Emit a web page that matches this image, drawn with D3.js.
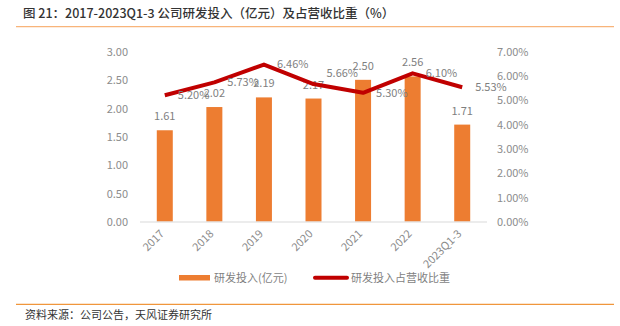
<!DOCTYPE html>
<html><head><meta charset="utf-8">
<script src="https://cdn.jsdelivr.net/npm/d3@7"></script>
<style>
body{margin:0;background:#fff;}
text{font-family:"Noto Sans CJK SC","Noto Sans",sans-serif;}
</style></head>
<body><svg id="c" width="620" height="326"></svg>
<script>
const categories = ["2017","2018","2019","2020","2021","2022","2023Q1-3"];
const rdSpend = [1.61,2.02,2.19,2.17,2.50,2.56,1.71];
const rdRatio = [5.20,5.73,6.46,5.66,5.30,6.10,5.53];
const leftTicks = [0,0.5,1,1.5,2,2.5,3];
const rightTicks = [0,1,2,3,4,5,6,7];
const titleText = "图 21：2017-2023Q1-3 公司研发投入（亿元）及占营收比重（%）";
const sourceText = "资料来源：公司公告，天风证券研究所";
const seriesNames = ["研发投入(亿元)","研发投入占营收比重"];

(function(){
const svg = d3.select("#c");
const font = '"Noto Sans CJK SC","Noto Sans",sans-serif';
const pTop = 51.5, pBottom = 221.5, pLeft = 140, pRight = 487;

svg.append("text").attr("x",23).attr("y",18).attr("font-size",12.5).attr("fill","#333")
  .attr("font-weight",500).text(titleText);
svg.append("line").attr("x1",16).attr("x2",614).attr("y1",26.7).attr("y2",26.7)
  .attr("stroke","#F8B47A").attr("stroke-width",1.3);

const x = d3.scaleBand().domain(categories).range([pLeft,pRight]).paddingInner(0).paddingOuter(0);
const yL = d3.scaleLinear().domain([0,3]).range([pBottom,pTop]);
const yR = d3.scaleLinear().domain([0,7]).range([pBottom,pTop]);
const bw = 16;

const axL = svg.append("g").attr("transform",`translate(${pLeft-12},0)`)
  .call(d3.axisLeft(yL).tickValues(leftTicks).tickFormat(d3.format(".2f")).tickSize(0));
axL.select(".domain").remove();
axL.selectAll("text").attr("font-size",11).attr("fill","#8c8c8c").attr("font-family",font).attr("dy","0.35em").attr("x",0);

const axR = svg.append("g").attr("transform",`translate(${pRight+10},0)`)
  .call(d3.axisRight(yR).tickValues(rightTicks).tickFormat(d=>d3.format(".2f")(d)+"%").tickSize(0));
axR.select(".domain").remove();
axR.selectAll("text").attr("font-size",11).attr("fill","#8c8c8c").attr("font-family",font).attr("dy","0.35em").attr("x",0);

svg.append("g").selectAll("rect").data(rdSpend).join("rect")
  .attr("x",(d,i)=>x(categories[i])+x.bandwidth()/2-bw/2)
  .attr("width",bw)
  .attr("y",d=>yL(d)).attr("height",d=>pBottom-yL(d))
  .attr("fill","#ED7D31");

svg.append("line").attr("x1",pLeft).attr("x2",pRight).attr("y1",pBottom+0.5).attr("y2",pBottom+0.5)
  .attr("stroke","#d9d9d9").attr("stroke-width",1);

const axB = svg.append("g").attr("transform",`translate(0,${pBottom})`)
  .call(d3.axisBottom(x).tickSize(0));
axB.select(".domain").remove();
axB.selectAll("text").attr("font-size",11).attr("fill","#8c8c8c").attr("font-family",font)
  .attr("text-anchor","end").attr("dy","0").attr("y",0)
  .attr("transform","translate(0,13) rotate(-45)");

svg.append("g").selectAll("text").data(rdSpend).join("text")
  .attr("x",(d,i)=>x(categories[i])+x.bandwidth()/2)
  .attr("y",d=>yL(d)-10).attr("text-anchor","middle")
  .attr("font-size",11).attr("fill","#7f7f7f").text(d=>d3.format(".2f")(d));

const line = d3.line().x((d,i)=>x(categories[i])+x.bandwidth()/2).y(d=>yR(d));
svg.append("path").datum(rdRatio).attr("d",line).attr("fill","none")
  .attr("stroke","#C00000").attr("stroke-width",4).attr("stroke-linejoin","round");

svg.append("g").selectAll("text").data(rdRatio).join("text")
  .attr("x",(d,i)=>x(categories[i])+x.bandwidth()/2+13)
  .attr("y",(d,i)=>yR(d)+(i===3?-10.5:0)).attr("dy","0.35em")
  .attr("font-size",11).attr("fill","#7f7f7f").text(d=>d3.format(".2f")(d)+"%");

const lg = svg.append("g");
lg.append("rect").attr("x",179).attr("y",275).attr("width",31).attr("height",5.5).attr("fill","#ED7D31");
lg.append("text").attr("x",214).attr("y",277.7).attr("dy","0.35em").attr("font-size",11).attr("fill","#7f7f7f").text(seriesNames[0]);
lg.append("line").attr("x1",315).attr("x2",347).attr("y1",277.7).attr("y2",277.7).attr("stroke","#C00000").attr("stroke-width",4).attr("stroke-linecap","round");
lg.append("text").attr("x",351).attr("y",277.7).attr("dy","0.35em").attr("font-size",11).attr("fill","#7f7f7f").text(seriesNames[1]);

svg.append("line").attr("x1",16).attr("x2",614).attr("y1",304.3).attr("y2",304.3)
  .attr("stroke","#F0963C").attr("stroke-width",1.3);
svg.append("text").attr("x",25).attr("y",319).attr("font-size",11).attr("fill","#333").text(sourceText);
})();
</script></body></html>
